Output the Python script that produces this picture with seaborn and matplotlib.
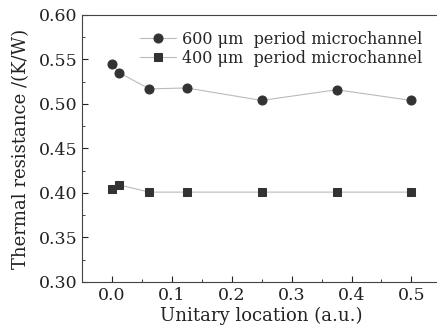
import matplotlib
matplotlib.use("Agg")
import matplotlib.pyplot as plt
import seaborn as sns
import pandas as pd
from matplotlib.ticker import MultipleLocator

location = [0.0, 0.0125, 0.0625, 0.125, 0.25, 0.375, 0.5]
r600 = [0.545, 0.535, 0.517, 0.518, 0.504, 0.516, 0.504]
r400 = [0.404, 0.409, 0.401, 0.401, 0.401, 0.401, 0.401]
labels = ["600 \u03bcm  period microchannel", "400 \u03bcm  period microchannel"]

sns.set_style("ticks")
plt.rcParams['font.family'] = ['DejaVu Serif']
plt.rcParams['mathtext.fontset'] = 'dejavuserif'

fig = plt.figure(figsize=(4.37, 3.32), dpi=100)
ax = fig.add_axes([82/437, 1-282/332, 1-82/437+0.01, (282-15)/332])

df = pd.DataFrame({"x": location * 2, "y": r600 + r400,
                   "s": [labels[0]] * len(location) + [labels[1]] * len(location)})
sns.lineplot(data=df, x="x", y="y", hue="s", style="s", markers=["o", "s"], dashes=False,
             palette=["#bbbbbb", "#bbbbbb"], linewidth=0.8, markersize=6.5,
             markerfacecolor="#333333", markeredgecolor="#333333", ax=ax)
for line in ax.lines:
    line.set_markerfacecolor("#333333")
    line.set_markeredgecolor("#333333")
    if line.get_marker() == "s":
        line.set_markersize(5.3)

ax.set_xlim(-0.05, 0.55)
ax.set_ylim(0.30, 0.60)
ax.xaxis.set_major_locator(MultipleLocator(0.1))
ax.xaxis.set_minor_locator(MultipleLocator(0.05))
ax.yaxis.set_major_locator(MultipleLocator(0.05))
ax.yaxis.set_minor_locator(MultipleLocator(0.025))
ax.xaxis.set_major_formatter(matplotlib.ticker.FormatStrFormatter('%.1f'))
ax.yaxis.set_major_formatter(matplotlib.ticker.FormatStrFormatter('%.2f'))
ax.tick_params(which='both', direction='in', top=False, right=False, labelsize=12.5, colors='#222222')
ax.tick_params(which='major', length=4)
ax.tick_params(which='minor', length=2.5)
for sp in ax.spines.values():
    sp.set_color('#444444')
    sp.set_linewidth(0.8)
ax.set_xlabel("Unitary location (a.u.)", fontsize=13, color='#222222', labelpad=2)
ax.set_ylabel("Thermal resistance /(K/W)", fontsize=13, color='#222222', labelpad=6)

h, l = ax.get_legend_handles_labels()
for hh in h:
    hh.set_markerfacecolor("#333333")
    hh.set_markeredgecolor("#333333")
    if hh.get_marker() == "s":
        hh.set_markersize(5.3)
leg = ax.legend(h, l, loc='upper left', bbox_to_anchor=(0.145, 0.965), frameon=False,
                fontsize=11.5, handlelength=2.2, handletextpad=0.4, labelspacing=0.12,
                borderaxespad=0)

fig.savefig("out.png", dpi=100)
